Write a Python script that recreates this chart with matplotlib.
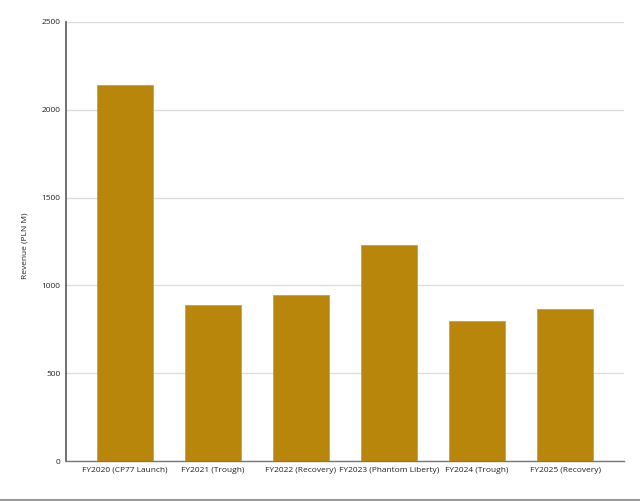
import matplotlib.pyplot as plt
from matplotlib.lines import Line2D

categories = ['FY2020 (CP77 Launch)', 'FY2021 (Trough)', 'FY2022 (Recovery)',
              'FY2023 (Phantom Liberty)', 'FY2024 (Trough)', 'FY2025 (Recovery)']
revenue = [2139, 886, 948, 1229, 797, 864]
yticks = [0, 500, 1000, 1500, 2000, 2500]

plt.rcParams['font.family'] = ['Open Sans', 'DejaVu Sans']

fig = plt.figure(figsize=(6.4, 5.01), dpi=100)
ax = fig.add_axes([66/640, 1-461/501, (624-66)/640, (461-22)/501])

ax.bar(range(len(categories)), revenue, width=0.64, color='#B8860B',
       edgecolor='#C9A040', linewidth=0.6, zorder=3)
ax.set_xlim(-0.67, len(categories) - 1 + 0.67)
ax.set_ylim(0, 2500)
ax.set_yticks(yticks)
ax.set_xticks(range(len(categories)))
ax.set_xticklabels(categories)
ax.tick_params(axis='both', length=0, labelsize=6, colors='#222222', pad=4)
ax.set_ylabel('Revenue (PLN M)', fontsize=6, color='#222222')
ax.yaxis.set_label_coords(-0.067, 0.49)
ax.grid(axis='y', color='#dcdcdc', linewidth=1, zorder=0)
for s in ['top', 'right']:
    ax.spines[s].set_visible(False)
ax.spines['left'].set_color('#666666')
ax.spines['left'].set_linewidth(1.3)
ax.spines['bottom'].set_color('#777777')
ax.spines['bottom'].set_linewidth(1.0)

# thin grey rule along the bottom of the picture
fig.add_artist(Line2D([0, 1], [1.5/501, 1.5/501], color='#999999', linewidth=1.5,
                      transform=fig.transFigure))

fig.savefig('out.png', dpi=100, facecolor='white')
